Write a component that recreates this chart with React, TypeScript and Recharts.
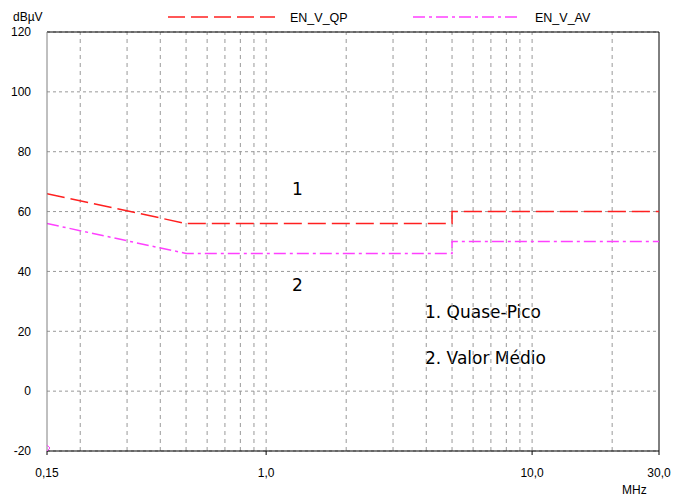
import { LineChart, Line, XAxis, YAxis, CartesianGrid, ReferenceLine, Scatter, Customized } from "recharts";

const qpFreq = [0.15, 0.5, 5, 5, 30];
const qpLevel = [66, 56, 56, 60, 60];
const avFreq = [0.15, 0.5, 5, 5, 30];
const avLevel = [56, 46, 46, 50, 50];
const xTicks = [0.15, 1, 10, 30];
const yTicks = [-20, 0, 20, 40, 60, 80, 100, 120];
const gridFreqs = [0.2, 0.3, 0.4, 0.5, 0.6, 0.7, 0.8, 0.9, 1, 2, 3, 4, 5, 6, 7, 8, 9, 10, 20];
const markerPoint = [{ f: 0.15, v: -19 }];

const qpData = qpFreq.map((f, i) => ({ f, v: qpLevel[i] }));
const avData = avFreq.map((f, i) => ({ f, v: avLevel[i] }));

const font = "'Liberation Sans', Arial, sans-serif";
const QP_COLOR = "#ff2020";
const AV_COLOR = "#ff40ff";

const fmtX = (v: number) => (v === 0.15 ? "0,15" : v.toFixed(1).replace(".", ","));

function Annotations() {
  return (
    <g>
      <text x={13} y={21} fontSize={12} fontFamily={font} fill="#000">dBµV</text>
      <text x={622} y={494} fontSize={12} fontFamily={font} fill="#000">MHz</text>
      <line x1={168} y1={17} x2={275} y2={17} stroke={QP_COLOR} strokeWidth={1.5} strokeDasharray="17 6" />
      <text x={290} y={22} fontSize={12.5} fontFamily={font} fill="#000">EN_V_QP</text>
      <line x1={413} y1={17} x2={520} y2={17} stroke={AV_COLOR} strokeWidth={1.5} strokeDasharray="12 4 3 4" />
      <text x={535} y={22} fontSize={12.5} fontFamily={font} fill="#000">EN_V_AV</text>
      <g fontFamily="'DejaVu Sans', Verdana, sans-serif" fontSize={17} fill="#000">
        <text x={292} y={195}>1</text>
        <text x={292} y={291}>2</text>
        <text x={425} y={318}>1. Quase-Pico</text>
        <text x={425} y={364}>2. Valor Médio</text>
      </g>
    </g>
  );
}

const Marker = (props: any) => (
  <path
    d={`M${props.cx - 1},${props.cy - 4} L${props.cx + 3},${props.cy} L${props.cx - 1},${props.cy + 4}`}
    stroke={AV_COLOR}
    fill="none"
    strokeWidth={1}
  />
);

export default function App() {
  return (
    <div style={{ position: "absolute", left: 0, top: 0, width: 675, height: 497, background: "#fff" }}>
      <LineChart width={675} height={497} margin={{ top: 32, right: 16, bottom: 16, left: 0 }}>
        <CartesianGrid vertical={false} stroke="#999" strokeDasharray="3 3" />
        {gridFreqs.map((f) => (
          <ReferenceLine key={f} x={f} stroke="#999" strokeDasharray="4 4" />
        ))}
        <XAxis
          dataKey="f"
          type="number"
          scale="log"
          domain={[0.15, 30]}
          ticks={xTicks}
          tickFormatter={fmtX}
          allowDataOverflow
          height={30}
          stroke="#000"
          tickSize={4}
          tickMargin={13}
          tick={{ fill: "#000", fontSize: 12, fontFamily: font }}
        />
        <YAxis
          type="number"
          domain={[-20, 120]}
          ticks={yTicks}
          interval={0}
          width={47}
          stroke="#808080"
          tickLine={false}
          tickMargin={10}
          tick={{ fill: "#000", fontSize: 12, fontFamily: font }}
        />
        <ReferenceLine y={120} stroke="#000" />
        <ReferenceLine x={30} stroke="#000" />
        <Line
          data={qpData}
          dataKey="v"
          type="linear"
          stroke={QP_COLOR}
          strokeWidth={1.5}
          strokeDasharray="18 6"
          dot={false}
          isAnimationActive={false}
        />
        <Line
          data={avData}
          dataKey="v"
          type="linear"
          stroke={AV_COLOR}
          strokeWidth={1.5}
          strokeDasharray="12 4 3 4"
          dot={false}
          isAnimationActive={false}
        />
        <Scatter data={markerPoint} dataKey="v" shape={Marker} isAnimationActive={false} />
        <Customized component={Annotations} />
      </LineChart>
    </div>
  );
}
